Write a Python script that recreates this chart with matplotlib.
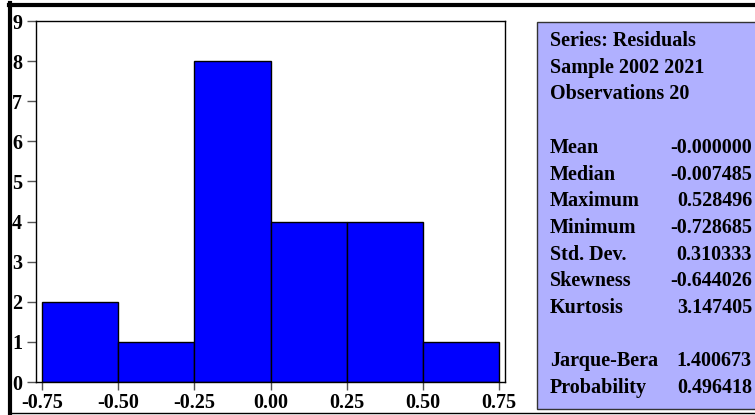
import numpy as np
import matplotlib
matplotlib.use('Agg')
import matplotlib.pyplot as plt
from matplotlib.patches import Rectangle
from matplotlib.lines import Line2D

# --- data --- #

bin_left = [-0.75, -0.50, -0.25, 0.00, 0.25, 0.50]
counts = [2, 1, 8, 4, 4, 1]
bin_width = 0.25

x_ticks = [-0.75, -0.50, -0.25, 0.00, 0.25, 0.50, 0.75]
y_ticks = list(range(10))

header_lines = ['Series: Residuals', 'Sample 2002 2021', 'Observations 20']
stat_names = ['Mean', 'Median', 'Maximum', 'Minimum', 'Std. Dev.', 'Skewness', 'Kurtosis']
stat_values = ['-0.000000', '-0.007485', '0.528496', '-0.728685', '0.310333', '-0.644026', '3.147405']
test_names = ['Jarque-Bera', 'Probability']
test_values = ['1.400673', '0.496418']

# --- figure --- #

W, H = 755.0, 415.0
fig = plt.figure(figsize=(W / 100, H / 100), dpi=100)

font = dict(family='Liberation Serif', weight='bold', size=14.5)

ax = fig.add_axes([36 / W, 1 - 382 / H, (505 - 36) / W, (382 - 21) / H])
ax.bar(bin_left, counts, width=bin_width, align='edge', color='#0000FF',
       edgecolor='black', linewidth=1.0)

ax.set_xlim(-0.7697, 0.7697)
ax.set_ylim(0, 9)
ax.set_xticks(x_ticks)
ax.set_xticklabels(['%.2f' % v for v in x_ticks])
ax.set_yticks(y_ticks)
ax.set_yticklabels([str(v) for v in y_ticks])
ax.tick_params(axis='both', direction='out', length=5.5, width=1, color='#555555', pad=2.5)
ax.tick_params(axis='y', length=6.5, pad=3.5)
for label in ax.get_xticklabels() + ax.get_yticklabels():
    label.set_fontfamily(font['family'])
    label.set_fontweight('bold')
    label.set_fontsize(font['size'])
for sp in ax.spines.values():
    sp.set_linewidth(1.0)
    sp.set_color('black')


def fx(px):
    return px / W


def fy(py):
    return 1 - py / H


# stats box
fig.patches.append(Rectangle((fx(537), fy(409)), fx(260), (409 - 22) / H,
                             transform=fig.transFigure, facecolor='#B0B0FF',
                             edgecolor='#333333', linewidth=1.0, zorder=0))

row0, step = 41.0, 26.7
rows = []
for t in header_lines:
    rows.append((t, ''))
rows.append(('', ''))
rows += list(zip(stat_names, stat_values))
rows.append(('', ''))
rows += list(zip(test_names, test_values))

for i, (name, val) in enumerate(rows):
    y = fy(row0 + i * step)
    if name:
        fig.text(fx(550), y, name, ha='left', va='center', **font)
    if val:
        fig.text(fx(752), y, val, ha='right', va='center', **font)

# outer frame of the window
fig.lines.append(Line2D([fx(8.5), 1.0], [fy(5.3), fy(5.3)], transform=fig.transFigure,
                        color='black', linewidth=3.0, zorder=10))
fig.lines.append(Line2D([fx(10.3), fx(10.3)], [fy(3.5), fy(413)], transform=fig.transFigure,
                        color='black', linewidth=3.0, zorder=10))
fig.lines.append(Line2D([fx(8.5), 1.0], [fy(412.5), fy(412.5)], transform=fig.transFigure,
                        color='black', linewidth=1.0, zorder=10))

plt.savefig('out.png', dpi=100)
